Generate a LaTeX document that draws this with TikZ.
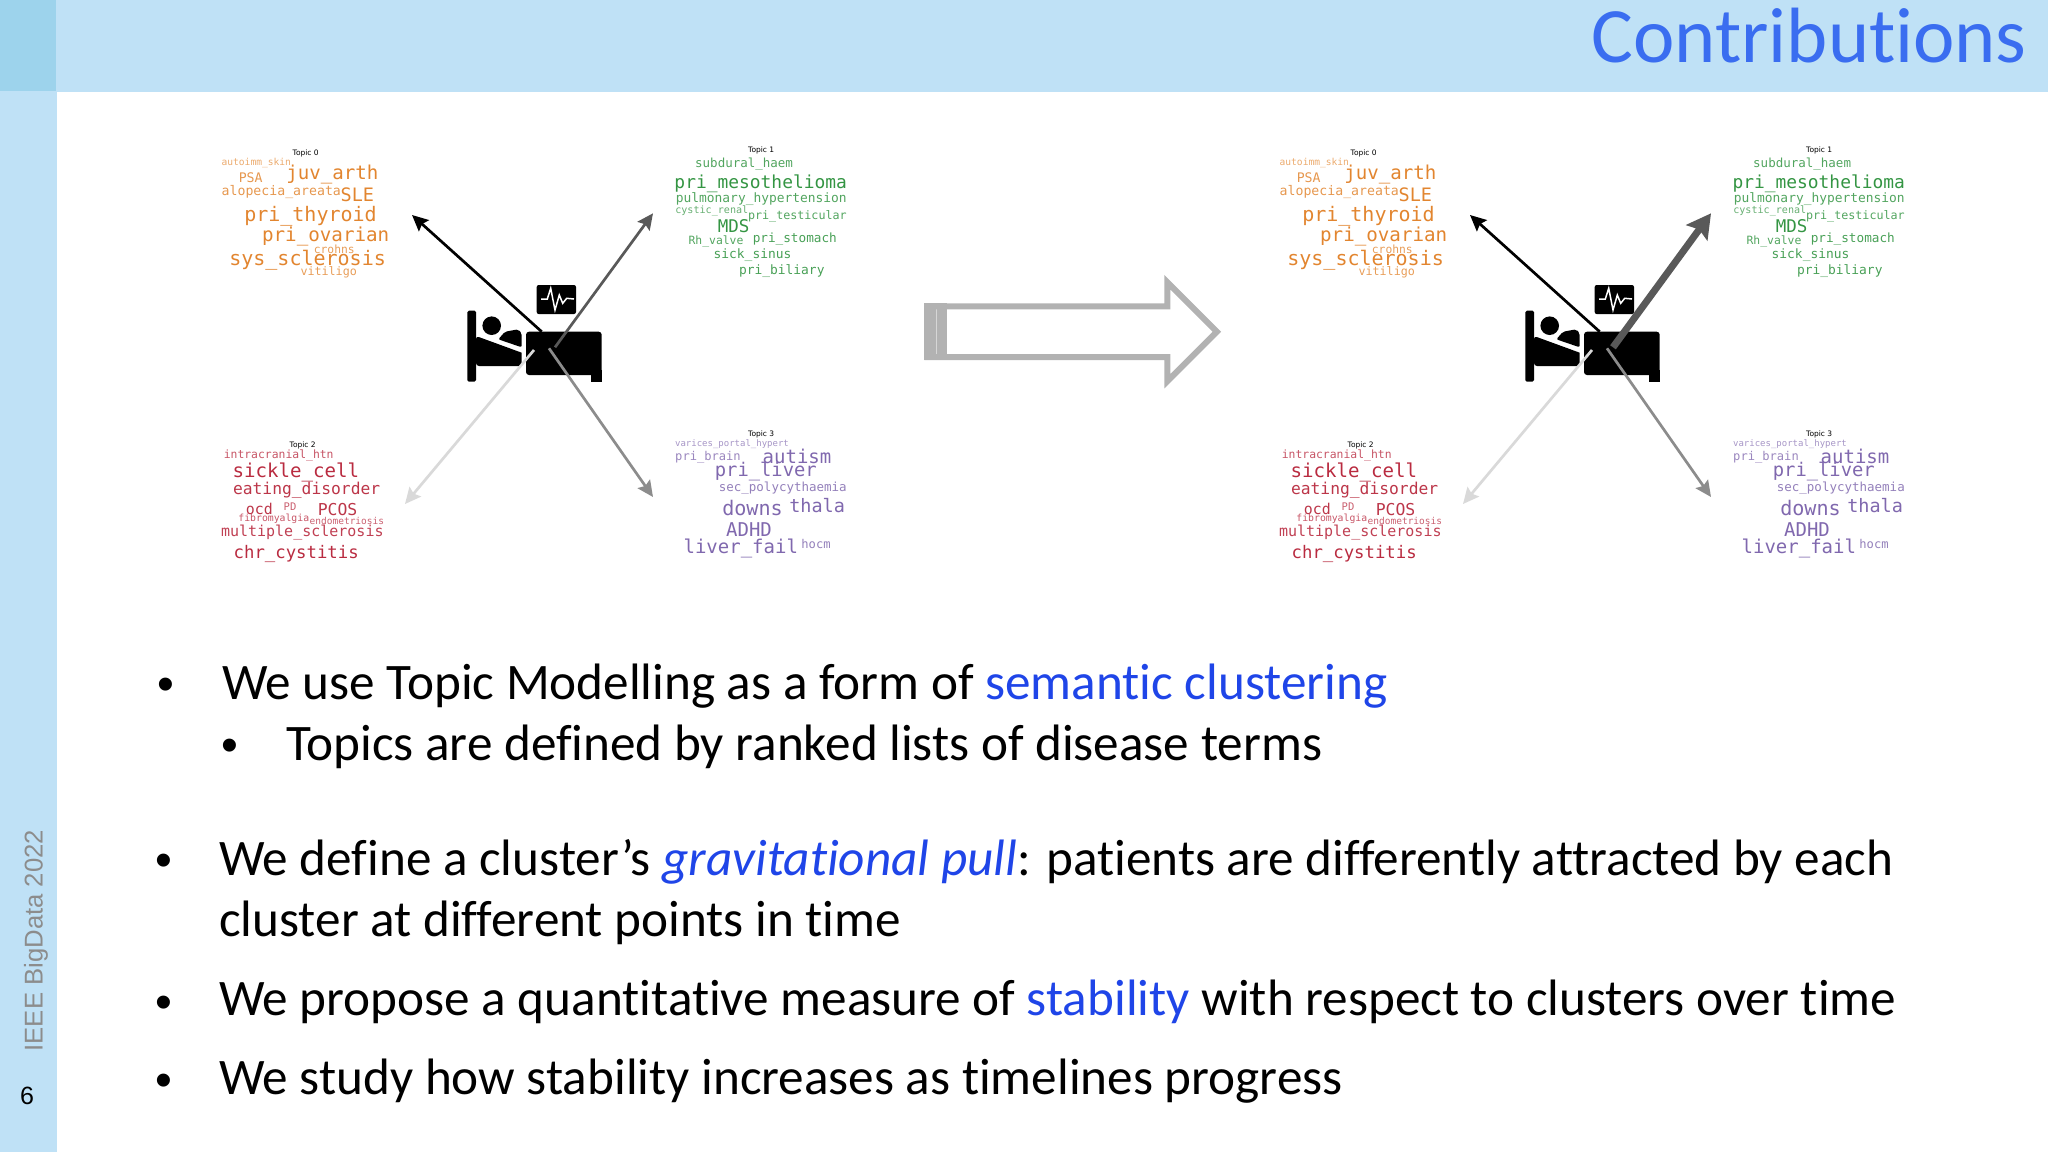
\documentclass[tikz,border=0pt]{standalone}
\usepackage{fontspec}
\usepackage{xcolor}
\usetikzlibrary{arrows.meta}
\setmainfont[Ligatures={TeX,NoCommon}]{Carlito}
\newfontfamily\cloudfont{DejaVu Sans Mono}
\newfontfamily\labelfont{DejaVu Sans}
\newfontfamily\sidefont{Liberation Sans}
\definecolor{bandblue}{HTML}{BFE1F6}
\definecolor{cornerblue}{HTML}{9DD3EC}
\definecolor{titleblue}{HTML}{3A6DF0}
\definecolor{termblue}{HTML}{1F45E8}
\definecolor{topicorange}{HTML}{E2852F}
\definecolor{topicgreen}{HTML}{349543}
\definecolor{topicred}{HTML}{B92B40}
\definecolor{topicpurple}{HTML}{8068AE}
\newcommand{\sz}[1]{\fontsize{#1}{#1}\selectfont}
\tikzset{
  word/.style={inner sep=0pt,font=\cloudfont},
  topiclabel/.style={inner sep=0pt,font=\labelfont\sz{7.5}},
  body/.style={inner sep=0pt,anchor=base west,align=left,font=\fontsize{51.2}{61}\selectfont},
  dot/.style={inner sep=0pt,font=\sidefont\sz{48}},
  pull/.style={-{Stealth[length=16pt,width=15pt,inset=2.5pt]},line width=2.7pt},
  strongpull/.style={-{Stealth[length=24pt,width=26pt,inset=4pt]},line width=7pt},
  patient/.pic={
    % word clouds
    \foreach \nm/\txt/\x/\y/\s/\c in {
      a1/autoimm\_skin/256.3/163.3/9.6/topicorange!70,
      a2/PSA/250.7/177.7/13.2/topicorange!85,
      a3/juv\_arth/332.4/174.3/19.1/topicorange,
      a4/alopecia\_areata/281.3/191.7/13.2/topicorange!85,
      a5/SLE/357.4/194.3/18.5/topicorange,
      a6/pri\_thyroid/310.5/216/20/topicorange,
      a7/pri\_ovarian/325.7/236.7/19.2/topicorange,
      a8/crohns/334.3/249/11.3/topicorange!80,
      a9/sys\_sclerosis/307.6/260.3/20/topicorange,
      a10/vitiligo/328.7/272.3/11.7/topicorange!80,
      b1/subdural\_haem/744.1/164.3/12.5/topicgreen!85,
      b2/pri\_mesothelioma/760.7/183.3/17.9/topicgreen,
      b3/pulmonary\_hypertension/761.3/199.3/12.9/topicgreen!85,
      b4/cystic\_renal/711.8/211.3/10.1/topicgreen!75,
      b5/pri\_testicular/797.4/216/11.7/topicgreen!85,
      b6/MDS/733.7/226/17.5/topicgreen,
      b7/Rh\_valve/716/241.3/11.4/topicgreen!85,
      b8/pri\_stomach/794.8/239.3/12.7/topicgreen!90,
      b9/sick\_sinus/752.5/255.3/12.9/topicgreen!90,
      b10/pri\_biliary/781.8/271/12.9/topicgreen!90,
      c1/intracranial\_htn/278.7/455.7/11.4/topicred!80,
      c2/sickle\_cell/295.9/472/19.1/topicred,
      c3/eating\_disorder/306.6/490.3/16.3/topicred!95,
      c4/ocd/259.4/509.3/14.9/topicred!95,
      c5/PD/290/507/10.5/topicred!75,
      c6/PCOS/337.5/509.3/16.4/topicred!95,
      c7/fibromyalgia/273.8/518.3/9.8/topicred!80,
      c8/endometriosis/346.9/520.7/9.5/topicred!75,
      c9/multiple\_sclerosis/302.3/533/15/topicred!90,
      c10/chr\_cystitis/296.2/554.3/17.3/topicred,
      d1/varices\_portal\_hypert/732/444.3/9/topicpurple!70,
      d2/pri\_brain/708/457/12.1/topicpurple!80,
      d3/autism/797/456/19/topicpurple,
      d4/pri\_liver/765.8/472/18.8/topicpurple,
      d5/sec\_polycythaemia/782.8/487.7/12.5/topicpurple!85,
      d6/downs/752.5/508/20.1/topicpurple,
      d7/thala/817.1/506/18.5/topicpurple,
      d8/ADHD/749/530/19/topicpurple,
      d9/liver\_fail/740.8/548.7/19/topicpurple,
      d10/hocm/816/544.3/12.1/topicpurple!85}
      \node[word,text=\c] (-\nm) at (\x,\y) {\sz{\s}\txt};
    \node[topiclabel] (-top0) at (305.7,153.7) {Topic 0};
    \node[topiclabel] (-top1) at (761.2,150) {Topic 1};
    \node[topiclabel] (-top2) at (302.7,445) {Topic 2};
    \node[topiclabel] (-top3) at (761.2,434.7) {Topic 3};
    % bed and monitor
    \fill[rounded corners=1.5pt] (467.3,381.7) -- (467.3,310.7) -- (476,310.7) -- (476,381.7) -- cycle;
    \fill (491.7,325.7) circle (9.3pt);
    \fill (476,336) -- (521.7,352.7) [rounded corners=3pt] -- (521.7,366) -- (476,366) -- cycle;
    \fill[rounded corners=2pt] (498.3,339.3) -- (505,331.7) -- (518.3,329.3) -- (521.7,333.3) -- (521.7,347.3) -- cycle;
    \fill[rounded corners=3pt] (526,331.7) -- (601.7,331.7) -- (601.7,375) -- (526,375) -- cycle;
    \fill (591,370) rectangle (601.7,381.7);
    \fill[rounded corners=2pt] (536.7,285) rectangle (576,314);
    \draw[white,line width=1.5pt] (541,299) -- (547.3,299) -- (550.7,288.3) -- (555,310) -- (559.3,295) -- (562.7,303.3) -- (566.7,298.3) -- (574,299);
    % pull of each topic
    \coordinate (-s0) at (541.7,331.7);
    \coordinate (-e0) at (412,215);
    \coordinate (-s1) at (555,347.3);
    \coordinate (-e1) at (653,213.3);
    \coordinate (-s2) at (534,350);
    \coordinate (-e2) at (405,504);
    \coordinate (-s3) at (549,348.3);
    \coordinate (-e3) at (653,497);
    \path (-s0) edge[pull,draw=black,fill=black] (-e0)
          (-s2) edge[pull,draw=black!15,fill=black!15] (-e2)
          (-s3) edge[pull,draw=black!45,fill=black!45] (-e3)
          (-s1) edge[#1,draw=black!65,fill=black!65] (-e1);
  }
}

\begin{document}
\begin{tikzpicture}[x=1pt,y=-1pt]
  \useasboundingbox (0,0) rectangle (2048,1152);
  \fill[bandblue] (0,0) rectangle (2048,92);
  \fill[bandblue] (0,0) rectangle (56.5,1152);
  \fill[cornerblue] (0,0) rectangle (56,91);
  \node[inner sep=0pt,anchor=base east,text=titleblue,font=\sz{78.4}] (title) at (2027,62) {Contributions};
  \node[inner sep=0pt,anchor=base west,rotate=90,text=black!45,font=\sidefont\sz{25.7}] (venue) at (42.7,1051.5) {IEEE BigData 2022};
  \node[inner sep=0pt,font=\sidefont\sz{25}] (pageno) at (27,1096) {6};

  \pic (before) at (0,0) {patient=pull};
  \pic (after) at (1058,0) {patient=strongpull};

  % hollow arrow
  \fill[black!30] (924.3,303.3) rectangle (946.7,360);
  \draw[black!16,line width=1pt] (936.7,308) -- (936.7,355);
  \draw[black!30,line width=6pt,miter limit=10] (927.3,306.3) -- (1167.3,306.3) -- (1167.3,282.2) -- (1216.8,331.7) -- (1167.3,381.2) -- (1167.3,357) -- (927.3,357) -- cycle;

  \node[dot] (dot1) at (166,689) {•};
  \node[body] (line1) at (222,699.3) {We use Topic Modelling as a form of \textcolor{termblue}{semantic clustering}};
  \node[dot] (dot2) at (230,750) {•};
  \node[body] (line2) at (286,760.3) {Topics are defined by ranked lists of disease terms};
  \node[dot] (dot3) at (164,865) {•};
  \node[body] (line3) at (219,936.3) {We define a cluster’s \textcolor{termblue}{\textit{gravitational pull}}: patients are differently attracted by each\\cluster at different points in time};
  \node[dot] (dot4) at (164,1007) {•};
  \node[body] (line4) at (219,1015.3) {We propose a quantitative measure of \textcolor{termblue}{stability} with respect to clusters over time};
  \node[dot] (dot5) at (164,1085) {•};
  \node[body] (line5) at (219,1094.3) {We study how stability increases as timelines progress};
\end{tikzpicture}
\end{document}
